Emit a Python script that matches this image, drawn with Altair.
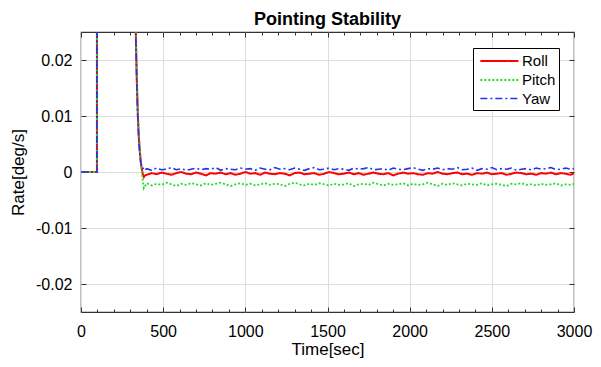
import altair as alt
import pandas as pd

FONT = "Liberation Sans"

series_names = ["Roll", "Pitch", "Yaw"]
series_colors = ["#ff0000", "#22dd22", "#2233ee"]
series_dash = [[1, 0], [2, 2], [7, 3, 2, 3]]
series_width = [2.0, 1.6, 1.3]

time_transient = [0, 97, 97, 324, 334, 340, 346, 352, 358, 364, 370, 376, 382, 390]
time_steady = [
    400, 430, 460, 490, 520, 550, 580, 610, 640, 670,
    700, 730, 760, 790, 820, 850, 880, 910, 940, 970,
    1000, 1030, 1060, 1090, 1120, 1150, 1180, 1210, 1240, 1270,
    1300, 1330, 1360, 1390, 1420, 1450, 1480, 1510, 1540, 1570,
    1600, 1630, 1660, 1690, 1720, 1750, 1780, 1810, 1840, 1870,
    1900, 1930, 1960, 1990, 2020, 2050, 2080, 2110, 2140, 2170,
    2200, 2230, 2260, 2290, 2320, 2350, 2380, 2410, 2440, 2470,
    2500, 2530, 2560, 2590, 2620, 2650, 2680, 2710, 2740, 2770,
    2800, 2830, 2860, 2890, 2920, 2950, 2980, 3000,
]

roll_transient = [0, 0, 0.05, 0.05, 0.024, 0.016, 0.010, 0.0062, 0.0036, 0.0018, 0.0006, -0.0004, -0.0009, -0.0006]
pitch_transient = [0, 0, 0.05, 0.05, 0.025, 0.017, 0.011, 0.0068, 0.004, 0.0018, 0.0001, -0.0015, -0.0029, -0.0025]
yaw_transient = [0, 0, 0.05, 0.05, 0.023, 0.015, 0.0092, 0.0056, 0.0032, 0.0016, 0.0007, 0.0006, 0.0008, 0.0004]

roll_steady = [
    -0.0005, -0.0002, -0.0004, -0.0001, -0.0003, -0.0005, -0.0002, 0.0, -0.0003, -0.0004,
    -0.0001, -0.0003, -0.0006, -0.0002, -0.0003, -0.0001, -0.0004, -0.0002, -0.0005, -0.0003,
    0.0, -0.0003, -0.0002, -0.0005, -0.0001, -0.0003, -0.0004, -0.0002, -0.0003, -0.0006,
    -0.0002, -0.0001, -0.0004, -0.0003, -0.0002, -0.0005, -0.0003, 0.0, -0.0002, -0.0004,
    -0.0003, -0.0001, -0.0004, -0.0002, -0.0005, -0.0003, -0.0001, -0.0003, -0.0004, -0.0002,
    -0.0006, -0.0003, -0.0001, -0.0003, -0.0002, -0.0004, -0.0005, -0.0002, -0.0003, 0.0,
    -0.0003, -0.0004, -0.0002, -0.0001, -0.0004, -0.0003, -0.0005, -0.0002, -0.0003, -0.0001,
    -0.0004, -0.0003, -0.0002, -0.0005, -0.0003, -0.0001, -0.0002, -0.0004, -0.0003, -0.0005,
    -0.0002, -0.0003, -0.0001, -0.0004, -0.0002, -0.0003, -0.0005, -0.0002,
]
pitch_steady = [
    -0.0020, -0.0024, -0.0021, -0.0023, -0.0019, -0.0022, -0.0025, -0.0021, -0.0023, -0.0020,
    -0.0022, -0.0024, -0.0020, -0.0023, -0.0021, -0.0019, -0.0022, -0.0025, -0.0022, -0.0020,
    -0.0023, -0.0021, -0.0024, -0.0022, -0.0020, -0.0023, -0.0021, -0.0022, -0.0025, -0.0021,
    -0.0019, -0.0022, -0.0024, -0.0021, -0.0023, -0.0020, -0.0022, -0.0024, -0.0021, -0.0023,
    -0.0022, -0.0020, -0.0025, -0.0022, -0.0021, -0.0023, -0.0019, -0.0022, -0.0024, -0.0021,
    -0.0023, -0.0022, -0.0020, -0.0024, -0.0021, -0.0023, -0.0022, -0.0019, -0.0022, -0.0025,
    -0.0021, -0.0023, -0.0020, -0.0022, -0.0024, -0.0021, -0.0022, -0.0023, -0.0020, -0.0024,
    -0.0022, -0.0021, -0.0023, -0.0025, -0.0021, -0.0022, -0.0020, -0.0023, -0.0022, -0.0024,
    -0.0021, -0.0023, -0.0022, -0.0020, -0.0024, -0.0022, -0.0023, -0.0021,
]
yaw_steady = [
    0.0006, 0.0003, 0.0007, 0.0004, 0.0005, 0.0008, 0.0004, 0.0006, 0.0003, 0.0005,
    0.0007, 0.0004, 0.0006, 0.0005, 0.0008, 0.0003, 0.0006, 0.0005, 0.0004, 0.0007,
    0.0005, 0.0006, 0.0003, 0.0007, 0.0005, 0.0004, 0.0008, 0.0005, 0.0006, 0.0004,
    0.0007, 0.0005, 0.0003, 0.0006, 0.0008, 0.0004, 0.0005, 0.0007, 0.0004, 0.0006,
    0.0005, 0.0003, 0.0007, 0.0005, 0.0006, 0.0008, 0.0004, 0.0005, 0.0006, 0.0003,
    0.0007, 0.0005, 0.0004, 0.0006, 0.0008, 0.0005, 0.0003, 0.0006, 0.0005, 0.0007,
    0.0004, 0.0006, 0.0005, 0.0008, 0.0004, 0.0005, 0.0007, 0.0003, 0.0006, 0.0005,
    0.0008, 0.0004, 0.0006, 0.0005, 0.0007, 0.0003, 0.0005, 0.0006, 0.0004, 0.0007,
    0.0005, 0.0006, 0.0008, 0.0004, 0.0005, 0.0007, 0.0005, 0.0006,
]

x_major = [0, 500, 1000, 1500, 2000, 2500, 3000]
x_minor = list(range(0, 3001, 100))
y_major = [-0.02, -0.01, 0, 0.01, 0.02]

times = time_transient + time_steady
values = {
    "Roll": roll_transient + roll_steady,
    "Pitch": pitch_transient + pitch_steady,
    "Yaw": yaw_transient + yaw_steady,
}
rows = []
for name in series_names:
    vals = values[name]
    assert len(vals) == len(times)
    for i, (t, v) in enumerate(zip(times, vals)):
        rows.append({"series": name, "t": t, "v": v, "idx": i})
df = pd.DataFrame(rows)

W, H = 493, 280
x_scale = alt.Scale(domain=[0, 3000], nice=False, zero=False)
y_scale = alt.Scale(domain=[-0.025, 0.025], nice=False, zero=False)

main_x = alt.Axis(values=x_major, format="d", labelFont=FONT, labelFontSize=16, labelColor="black",
                  labelPadding=11, labelFlush=False, labelOverlap=False, ticks=False, tickSize=0,
                  domain=False, grid=True, gridColor="#dddddd", gridWidth=1,
                  title="Time[sec]", titleFont=FONT, titleFontSize=17, titleFontWeight="normal",
                  titleColor="black", titlePadding=2)
main_y = alt.Axis(values=y_major,
                  labelExpr="datum.value == 0 ? '0' : (datum.value < 0 ? '-' : '') + format(abs(datum.value), '.2f')",
                  labelFont=FONT, labelFontSize=16, labelColor="black", labelPadding=9,
                  labelOverlap=False, labelFlush=False, ticks=False, tickSize=0, domain=False,
                  grid=True, gridColor="#dddddd", gridWidth=1,
                  title="Rate[deg/s]", titleFont=FONT, titleFontSize=17, titleFontWeight="normal",
                  titleColor="black", titlePadding=8)

tick_size_x = {"condition": {"test": "datum.value % 500 === 0", "value": 5}, "value": 3}

lines = alt.Chart(df).mark_line(clip=True).encode(
    x=alt.X("t:Q", scale=x_scale, axis=main_x),
    y=alt.Y("v:Q", scale=y_scale, axis=main_y),
    color=alt.Color("series:N", scale=alt.Scale(domain=series_names, range=series_colors),
                    legend=alt.Legend(title=None, orient="none", legendX=392, legendY=16,
                                      strokeColor="black", fillColor="white",
                                      padding=3, symbolType="M-1,0L3.4,0", symbolSize=300,
                                      symbolOffset=3, labelFont=FONT, labelFontSize=15,
                                      labelColor="black", labelOffset=23, rowPadding=1,
                                      labelExpr="datum.label + '\u00a0'")),
    strokeDash=alt.StrokeDash("series:N", scale=alt.Scale(domain=series_names, range=series_dash)),
    strokeWidth=alt.StrokeWidth("series:N", scale=alt.Scale(domain=series_names, range=series_width)),
    order=alt.Order("idx:Q"),
)

def tick_layer(x_orient, y_orient):
    return alt.Chart(df).mark_point(opacity=0, clip=True).encode(
        x=alt.X("t:Q", scale=x_scale,
                axis=alt.Axis(orient=x_orient, offset=-H, values=x_minor, labels=False, grid=False,
                              domain=False, ticks=True, tickSize=tick_size_x, tickColor="#333333",
                              tickWidth=1, title="")),
        y=alt.Y("v:Q", scale=y_scale,
                axis=alt.Axis(orient=y_orient, offset=-W, values=y_major, labels=False, grid=False,
                              domain=False, ticks=True, tickSize=5, tickColor="#333333",
                              tickWidth=1, title="")),
    )

chart = alt.layer(
    lines,
    tick_layer("top", "right"),
    tick_layer("bottom", "left"),
).resolve_axis(x="independent", y="independent").properties(
    width=W,
    height=H,
    title=alt.TitleParams("Pointing Stability", font=FONT, fontSize=18, fontWeight="bold",
                          color="black", anchor="middle", offset=3),
    autosize=alt.AutoSizeParams(type="none"),
    padding={"left": 73, "top": 24, "right": 19, "bottom": 47},
).configure_view(stroke="#333333", strokeWidth=1.2)

chart.save("out.html", embed_options={"renderer": "svg", "actions": False})
